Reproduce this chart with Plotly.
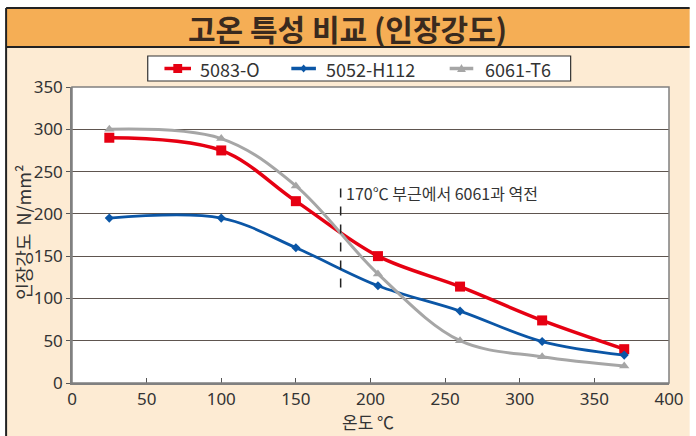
import plotly.graph_objects as go

temps = [25, 100, 150, 205, 260, 315, 370]
s5083 = [290, 275, 215, 150, 114, 74, 40]
s5052 = [195, 195, 160, 115, 85, 49, 33]
s6061 = [300, 289, 233, 129, 50, 31, 20]
names = ["5083-O", "5052-H112", "6061-T6"]
colors = ["#E60012", "#0B56A6", "#A6A6A6"]
symbols = ["square", "diamond", "triangle-up"]
msizes = [10, 7, 9]
lwidths = [3.5, 2.8, 3]
series = [s5083, s5052, s6061]

title_text = "고온 특성 비교 (인장강도)"
note_text = "170℃ 부근에서 6061과 역전"
xtitle = "온도 ℃"
ytitle = "인장강도\u00a0\u00a0N/mm²"
note_x = 180
note_y = [113, 232]

FONT = "Noto Sans CJK KR, Noto Sans, sans-serif"
TICKFONT = "Noto Sans, Open Sans, sans-serif"

fig = go.Figure()
for nm, ys, c, sym, ms, lw in zip(names, series, colors, symbols, msizes, lwidths):
    fig.add_trace(go.Scatter(
        x=temps, y=ys, name=nm, mode="lines+markers", showlegend=False,
        line=dict(color=c, width=lw, shape="spline", smoothing=1.0),
        marker=dict(symbol=sym, size=ms, color=c),
    ))

# dashed reference line
fig.add_trace(go.Scatter(x=[note_x, note_x], y=note_y, mode="lines",
                         line=dict(color="#222", width=1.5, dash="dash"),
                         showlegend=False, hoverinfo="skip"))

L, R, T, B = 72, 17, 87, 53
W, H = 696, 436
pw, ph = W - L - R, H - T - B

def px2x(px):
    return (px - L) / pw

def py2y(py):
    return (H - B - py) / ph

shapes = [
    dict(type="rect", xref="paper", yref="paper", x0=px2x(5), x1=px2x(700),
         y0=py2y(440), y1=py2y(47), fillcolor="#FDEBD3", line=dict(width=0), layer="below"),
    dict(type="rect", xref="paper", yref="paper", x0=px2x(5), x1=px2x(700),
         y0=py2y(47), y1=py2y(8), fillcolor="#F5AE55", line=dict(width=0), layer="below"),
    dict(type="rect", xref="paper", yref="paper", x0=0, x1=1, y0=0, y1=1,
         fillcolor="#FFFFFF", line=dict(width=0), layer="below"),
    dict(type="line", xref="paper", yref="paper", x0=px2x(5), x1=px2x(700),
         y0=py2y(8), y1=py2y(8), line=dict(color="#222", width=2)),
    dict(type="line", xref="paper", yref="paper", x0=px2x(5), x1=px2x(700),
         y0=py2y(47), y1=py2y(47), line=dict(color="#222", width=2)),
    dict(type="line", xref="paper", yref="paper", x0=px2x(5), x1=px2x(5),
         y0=py2y(440), y1=py2y(8), line=dict(color="#222", width=2)),
    dict(type="rect", xref="paper", yref="paper", x0=0, x1=1, y0=0, y1=1,
         line=dict(color="#808080", width=1.5), fillcolor="rgba(0,0,0,0)"),
    # legend box
    dict(type="rect", xref="paper", yref="paper", x0=px2x(149), x1=px2x(579),
         y0=py2y(81), y1=py2y(56), fillcolor="#FFFFFF", line=dict(color="#333", width=1.2)),
]

annotations = [
    dict(text="<b>" + title_text + "</b>", xref="paper", yref="paper",
         x=px2x(352), y=py2y(28), xanchor="center", yanchor="middle",
         showarrow=False, font=dict(size=30, color="#3A2A1E", family=FONT)),
    dict(text=note_text, xref="x", yref="y", x=note_x + 2, y=225,
         xanchor="left", yanchor="middle", showarrow=False,
         font=dict(size=16, color="#333333")),
    dict(text=xtitle, xref="paper", yref="paper", x=px2x(373), y=py2y(421),
         xanchor="center", yanchor="middle", showarrow=False, font=dict(size=17)),
    dict(text=ytitle, xref="paper", yref="paper", x=px2x(22), y=py2y(232),
         xanchor="center", yanchor="middle", showarrow=False, textangle=-90,
         font=dict(size=18)),
]

# manual legend
leg_cy = 68.5
leg_items = [(166, 193, 200), (295, 320, 328), (456, 480, 490)]
for (x0, x1, tx), nm, c, sym in zip(leg_items, names, colors, symbols):
    shapes.append(dict(type="line", xref="paper", yref="paper", x0=px2x(x0), x1=px2x(x1),
                       y0=py2y(leg_cy), y1=py2y(leg_cy), line=dict(color=c, width=3.5)))
    cx = (x0 + x1) / 2
    if sym == "square":
        shapes.append(dict(type="rect", xref="paper", yref="paper",
                           x0=px2x(cx - 4.5), x1=px2x(cx + 4.5),
                           y0=py2y(leg_cy + 4.5), y1=py2y(leg_cy - 4.5),
                           fillcolor=c, line=dict(width=0)))
    elif sym == "diamond":
        pts = [(cx, leg_cy - 4), (cx + 3.5, leg_cy), (cx, leg_cy + 4), (cx - 3.5, leg_cy)]
        path = "M " + " L ".join(f"{px2x(a):.5f},{py2y(b):.5f}" for a, b in pts) + " Z"
        shapes.append(dict(type="path", xref="paper", yref="paper", path=path,
                           fillcolor=c, line=dict(width=0)))
    else:
        pts = [(cx, leg_cy - 4.5), (cx + 4.5, leg_cy + 3.5), (cx - 4.5, leg_cy + 3.5)]
        path = "M " + " L ".join(f"{px2x(a):.5f},{py2y(b):.5f}" for a, b in pts) + " Z"
        shapes.append(dict(type="path", xref="paper", yref="paper", path=path,
                           fillcolor=c, line=dict(width=0)))
    annotations.append(dict(text=nm, xref="paper", yref="paper", x=px2x(tx), y=py2y(leg_cy),
                            xanchor="left", yanchor="middle", showarrow=False,
                            font=dict(size=18, color="#333333")))

fig.update_layout(
    width=W, height=H,
    margin=dict(l=L, r=R, t=T, b=B),
    paper_bgcolor="#FFFFFF",
    plot_bgcolor="rgba(0,0,0,0)",
    font=dict(family=FONT, size=17, color="#333333"),
    shapes=shapes,
    annotations=annotations,
    showlegend=False,
    xaxis=dict(range=[0, 400], dtick=50, showgrid=False, zeroline=False,
               ticks="inside", ticklen=5, tickcolor="#555", showline=True,
               linecolor="#808080", linewidth=1.5,
               tickfont=dict(size=17, family=TICKFONT, color="#333333")),
    yaxis=dict(range=[0, 350], dtick=50, showgrid=True, gridcolor="#5E554F", gridwidth=1.3,
               zeroline=False, ticks="outside", ticklen=4, tickcolor="#555", showline=True,
               linecolor="#808080", linewidth=1.5,
               tickfont=dict(size=17, family=TICKFONT, color="#333333")),
)

fig.write_html("out.html", config={"displayModeBar": False},
               post_script="document.body.style.margin='0px';document.body.style.overflow='hidden';")
